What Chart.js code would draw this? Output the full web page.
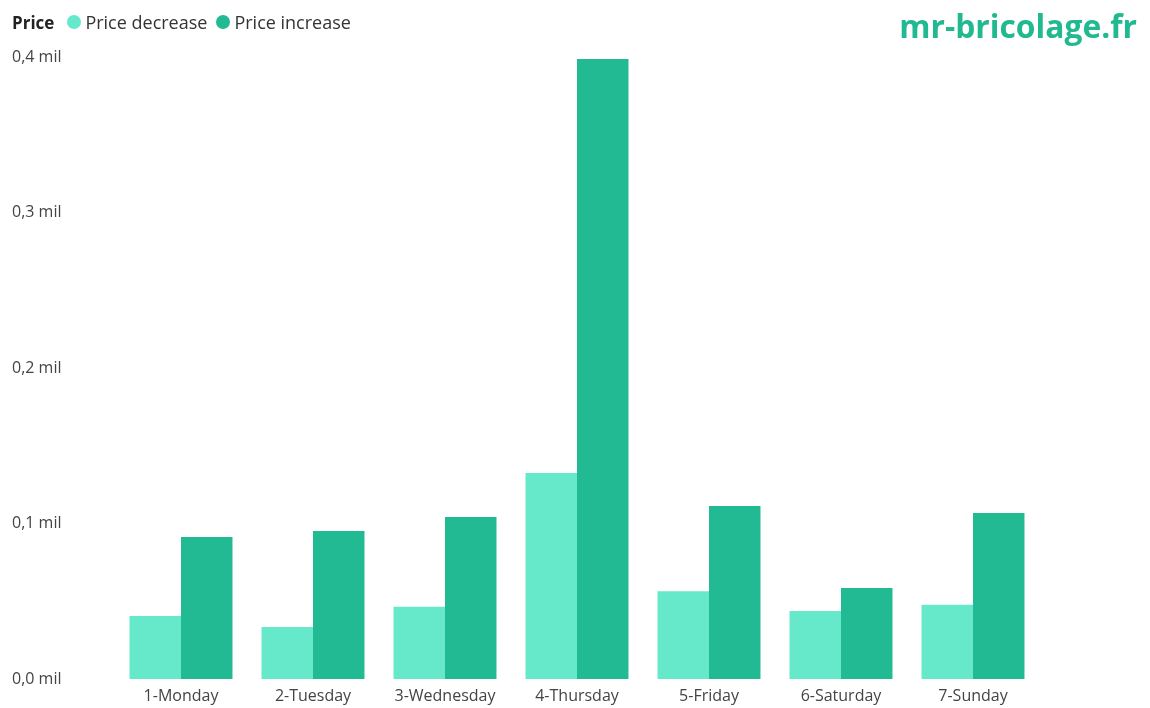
<!DOCTYPE html>
<html>
<head>
<meta charset="utf-8">
<script src="https://cdn.jsdelivr.net/npm/chart.js@4/dist/chart.umd.min.js"></script>
<style>
  html, body { margin: 0; padding: 0; background: #fff; }
  body { width: 1150px; height: 708px; position: relative; overflow: hidden; font-family: "Open Sans", "Noto Sans", sans-serif; }
  #chart { position: absolute; left: 0; top: 0; }
  .legend { position: absolute; left: 12px; top: 10px; display: flex; align-items: center; font-size: 18px; color: #333; }
  .legend b { margin-right: 13px; color: #222; font-size: 17px; }
  .legend .item { display: flex; align-items: center; margin-right: 9px; }
  .legend .dot { display: inline-block; width: 14px; height: 14px; border-radius: 50%; margin-right: 4px; }
  .brand { position: absolute; right: 13px; top: 4px; font-size: 31.8px; font-weight: 700; color: #21b98f; }
</style>
</head>
<body>
<canvas id="chart" width="1150" height="708"></canvas>
<div class="legend" id="legend"><b>Price</b></div>
<div class="brand">mr-bricolage.fr</div>
<script>
const days = ['1-Monday', '2-Tuesday', '3-Wednesday', '4-Thursday', '5-Friday', '6-Saturday', '7-Sunday'];
const priceDecrease = [0.0405, 0.0335, 0.0465, 0.1325, 0.0565, 0.0437, 0.0477];
const priceIncrease = [0.0913, 0.0952, 0.1042, 0.3987, 0.1112, 0.0585, 0.1068];
const seriesNames = ['Price decrease', 'Price increase'];
const colors = ['#66e9ca', '#22ba93'];

// legend as plain html, so the bold title sits on the same line
const legend = document.getElementById('legend');
seriesNames.forEach((name, i) => {
  const item = document.createElement('span');
  item.className = 'item';
  item.innerHTML = '<span class="dot" style="background:' + colors[i] + '"></span>' + name;
  legend.appendChild(item);
});

const ctx = document.getElementById('chart');
new Chart(ctx, {
  type: 'bar',
  data: {
    labels: days,
    datasets: [
      { label: seriesNames[0], data: priceDecrease, backgroundColor: colors[0] },
      { label: seriesNames[1], data: priceIncrease, backgroundColor: colors[1] },
    ],
  },
  options: {
    responsive: false,
    animation: false,
    maintainAspectRatio: false,
    layout: { padding: { top: 57, left: 12, right: 111, bottom: 3 } },
    plugins: { legend: { display: false }, tooltip: { enabled: false } },
    datasets: { bar: { categoryPercentage: 0.78, barPercentage: 1.0 } },
    scales: {
      x: {
        grid: { display: false, drawTicks: false },
        border: { display: false },
        afterFit: (scale) => { scale.height = 26; },
        ticks: { color: '#444', font: { family: 'Open Sans', size: 16 }, padding: 8, maxRotation: 0, autoSkip: false },
      },
      y: {
        min: 0,
        max: 0.4,
        grid: { display: false, drawTicks: false },
        border: { display: false },
        afterFit: (scale) => { scale.width = 103; },
        ticks: {
          stepSize: 0.1,
          crossAlign: 'far',
          padding: 0,
          color: '#444',
          font: { family: 'Open Sans', size: 16 },
          callback: (v) => v.toFixed(1).replace('.', ',') + ' mil',
        },
      },
    },
  },
});
</script>
</body>
</html>
